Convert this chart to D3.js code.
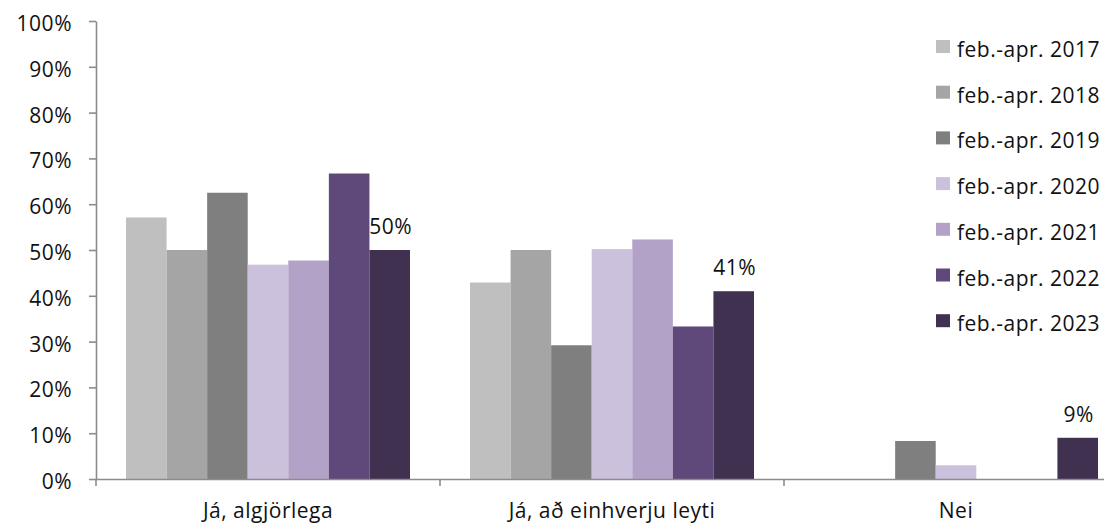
<!DOCTYPE html>
<html>
<head>
<meta charset="utf-8">
<script src="https://cdn.jsdelivr.net/npm/d3@7"></script>
<style>
  html, body { margin: 0; padding: 0; background: #fff; overflow: hidden; }
  svg { display: block; }
  text { font-family: "Open Sans", sans-serif; fill: #111; }
</style>
</head>
<body>
<svg id="chart" width="1104" height="526"></svg>
<script>
// ---- data ----
const categories = ["Já, algjörlega", "Já, að einhverju leyti", "Nei"];
const seriesNames = ["feb.-apr. 2017", "feb.-apr. 2018", "feb.-apr. 2019", "feb.-apr. 2020", "feb.-apr. 2021", "feb.-apr. 2022", "feb.-apr. 2023"];
const seriesColors = ["#bfbfbf", "#a5a5a5", "#7f7f7f", "#ccc1dc", "#b2a2c7", "#5f497a", "#403151"];
// values per series (one value per category), in %
const v2017 = [57.1, 42.9, 0];
const v2018 = [50.0, 50.0, 0];
const v2019 = [62.5, 29.2, 8.3];
const v2020 = [46.8, 50.2, 3.0];
const v2021 = [47.7, 52.3, 0];
const v2022 = [66.7, 33.3, 0];
const v2023 = [50.0, 41.0, 9.0];
const seriesValues = [v2017, v2018, v2019, v2020, v2021, v2022, v2023];
const labelledSeries = 6; // data labels shown for 2023
const yTicks = [0, 10, 20, 30, 40, 50, 60, 70, 80, 90, 100];

// ---- layout ----
const svg = d3.select("#chart");
const plotLeft = 96, plotRight = 1128, plotTop = 21, plotBottom = 479;
const axisColor = "#8c8c8c";
const fontSize = "21px";
const spacing = "0.5px";

const y = d3.scaleLinear().domain([0, 100]).range([plotBottom, plotTop]);
const x0 = d3.scaleBand().domain(categories).range([plotLeft, plotRight]).padding(0);
const x1 = d3.scaleBand().domain(seriesNames).range([30, x0.bandwidth() - 30]).padding(0);

// bars
const groups = svg.append("g").selectAll("g")
  .data(categories)
  .join("g")
  .attr("transform", d => `translate(${x0(d)},0)`);

groups.selectAll("rect")
  .data((c, ci) => seriesNames.map((s, si) => ({ s, si, v: seriesValues[si][ci] })).filter(d => d.v > 0))
  .join("rect")
  .attr("x", d => x1(d.s))
  .attr("y", d => y(d.v))
  .attr("width", x1.bandwidth())
  .attr("height", d => y(0) - y(d.v))
  .attr("fill", d => seriesColors[d.si]);

// data labels for 2023
groups.append("text")
  .datum((c, ci) => seriesValues[labelledSeries][ci])
  .attr("x", x1(seriesNames[labelledSeries]) + x1.bandwidth() / 2 + 1)
  .attr("y", d => y(d) - 16)
  .attr("text-anchor", "middle")
  .style("font-size", fontSize)
  .style("letter-spacing", spacing)
  .text(d => d3.format(".0f")(d) + "%");

// y axis
const yAxis = svg.append("g")
  .attr("transform", `translate(${plotLeft},0)`)
  .call(d3.axisLeft(y).tickValues(yTicks).tickSize(7).tickSizeOuter(0).tickPadding(17)
    .tickFormat(d => d + "%"));
yAxis.select(".domain").attr("stroke", axisColor).attr("stroke-width", 1.6);
yAxis.selectAll(".tick line").attr("stroke", axisColor).attr("stroke-width", 1.6);
yAxis.selectAll(".tick text").style("font-size", fontSize).style("font-family", "'Open Sans', sans-serif")
  .attr("fill", "#111").attr("dy", "0.45em").style("letter-spacing", spacing);

// x axis
const xAxis = svg.append("g")
  .attr("transform", `translate(0,${plotBottom})`)
  .call(d3.axisBottom(x0).tickSize(0).tickSizeOuter(0).tickPadding(24));
xAxis.select(".domain").attr("stroke", axisColor).attr("stroke-width", 1.6);
xAxis.selectAll(".tick text").style("font-size", fontSize).style("font-family", "'Open Sans', sans-serif")
  .attr("fill", "#111").style("letter-spacing", spacing);
// boundary ticks
const bounds = categories.map(c => x0(c)).concat([x0.range()[1]]);
xAxis.selectAll("line.bound")
  .data(bounds)
  .join("line")
  .attr("class", "bound")
  .attr("x1", d => d).attr("x2", d => d)
  .attr("y1", 0).attr("y2", 7)
  .attr("stroke", axisColor).attr("stroke-width", 1.6);

// legend
const legend = svg.append("g").attr("transform", "translate(936,40)");
const items = legend.selectAll("g")
  .data(seriesNames)
  .join("g")
  .attr("transform", (d, i) => `translate(0,${i * 45.7})`);
items.append("rect")
  .attr("width", 14).attr("height", 13)
  .attr("fill", (d, i) => seriesColors[i]);
items.append("text")
  .attr("x", 21)
  .attr("y", 17)
  .style("font-size", fontSize)
  .style("letter-spacing", spacing)
  .text(d => d);
</script>
</body>
</html>
